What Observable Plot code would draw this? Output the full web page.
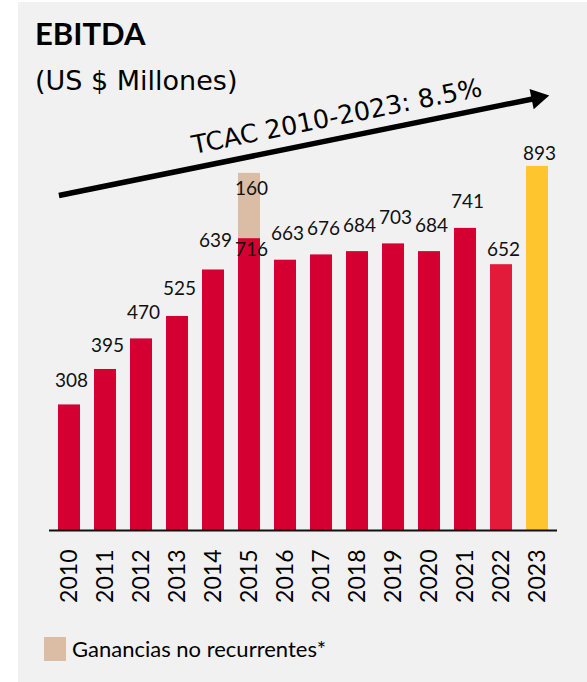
<!DOCTYPE html>
<html>
<head>
<meta charset="utf-8">
<script src="https://cdn.jsdelivr.net/npm/d3@7"></script>
<script src="https://cdn.jsdelivr.net/npm/@observablehq/plot@0.6"></script>
<style>
  html, body { margin: 0; padding: 0; background: #ffffff; }
  body { width: 587px; height: 682px; position: relative; overflow: hidden; }
  #panel { position: absolute; left: 18px; top: 2px; width: 569px; height: 680px; background: #f1f1f1; }
  #chart { position: absolute; left: 0; top: 0; }
  #title { position: absolute; left: 35px; top: 18px; font: 700 31px/1 Lato, sans-serif; color: #000; }
  #subtitle { position: absolute; left: 35px; top: 67px; font: 400 27px/1 "DejaVu Sans", sans-serif; color: #000; }
  #legend { position: absolute; left: 44px; top: 637px; display: flex; align-items: center; font: 400 22px/1 Lato, sans-serif; color: #000; }
  #legend .sw { width: 22px; height: 24px; background: #dbbda5; margin-right: 6px; }
</style>
</head>
<body>
<div id="panel"></div>
<div id="chart"></div>
<div id="title">EBITDA</div>
<div id="subtitle">(US $ Millones)</div>
<div id="legend"><span class="sw"></span><span>Ganancias no recurrentes*</span></div>
<script>
// ---- data ----
const years = ["2010","2011","2012","2013","2014","2015","2016","2017","2018","2019","2020","2021","2022","2023"];
const ebitda = [308, 395, 470, 525, 639, 716, 663, 676, 684, 703, 684, 741, 652, 893];
const noRecurrentes = [0, 0, 0, 0, 0, 160, 0, 0, 0, 0, 0, 0, 0, 0];
const cagrLabel = "TCAC 2010-2023: 8.5%";
// trend arrow, in data units (band of first/last year, value)
const trendArrow = [{x1: "2010", y1: 827, x2: "2023", y2: 1061}];
const trendText = [{x: "2017", y: 995, label: cagrLabel}];

// ---- styles ----
const RED = "#d50032", RED22 = "#e31b3b", YELLOW = "#ffc52e", TAN = "#dbbda5";
const barColor = (d) => d.part === "nr" ? TAN : d.year === "2023" ? YELLOW : d.year === "2022" ? RED22 : RED;
const labelDy = {"2010": -24, "2011": -24, "2013": -28, "2014": -29, "2015": 11.5, "2022": -15, "2023": -13};
const defaultDy = -26;

const rows = [];
years.forEach((y, i) => {
  rows.push({year: y, value: ebitda[i], part: "ebitda"});
  if (noRecurrentes[i] > 0) rows.push({year: y, value: noRecurrentes[i], part: "nr"});
});
const totals = years.map((y, i) => ({year: y, value: ebitda[i], total: ebitda[i] + noRecurrentes[i], nr: noRecurrentes[i]}));

// group value labels by their vertical offset (one text mark per offset)
const dyOf = (d) => labelDy[d.year] !== undefined ? labelDy[d.year] : defaultDy;
const offsetGroups = d3.groups(totals, dyOf);
const valueLabelMarks = offsetGroups.map(([dy, list]) =>
  Plot.text(list, {x: "year", y: "value", text: (d) => String(d.value), fontSize: 19, fill: "#111", dx: 2, dy})
);

const chart = Plot.plot({
  width: 587,
  height: 682,
  marginLeft: 49,
  marginRight: 30,
  marginTop: 0,
  marginBottom: 152,
  style: {background: "transparent", fontFamily: "Lato, sans-serif", color: "#000"},
  x: {type: "band", domain: years, paddingInner: 0.39, paddingOuter: 0.21, label: null},
  y: {domain: [0, 1300], axis: null},
  color: {type: "identity"},
  marks: [
    Plot.barY(rows, {x: "year", y: "value", fill: barColor}),
    Plot.ruleY([0], {stroke: "#111", strokeWidth: 2}),
    Plot.axisX({tickRotate: -90, tickSize: 0, tickPadding: 19, fontSize: 23, label: null, fill: "#000"}),
    ...valueLabelMarks,
    Plot.text(totals.filter(d => d.nr > 0), {x: "year", y: "total", text: (d) => String(d.nr), fontSize: 19, fill: "#111", dx: 2, dy: 16}),
    Plot.arrow(trendArrow, {x1: "x1", y1: "y1", x2: "x2", y2: "y2", stroke: "#000", strokeWidth: 5.5, headLength: 0, insetStart: -10.8, strokeLinecap: "butt"}),
    Plot.dot(trendArrow, {x: "x2", y: "y2", symbol: "triangle", r: 7.7, fill: "#000", stroke: "none", rotate: 78.5}),
    Plot.text(trendText, {x: "x", y: "y", text: "label", dx: 17, rotate: -11.4, lineAnchor: "bottom", fontSize: 25.5, fontFamily: "DejaVu Sans", fill: "#000"})
  ]
});
document.getElementById("chart").appendChild(chart);
</script>
</body>
</html>
